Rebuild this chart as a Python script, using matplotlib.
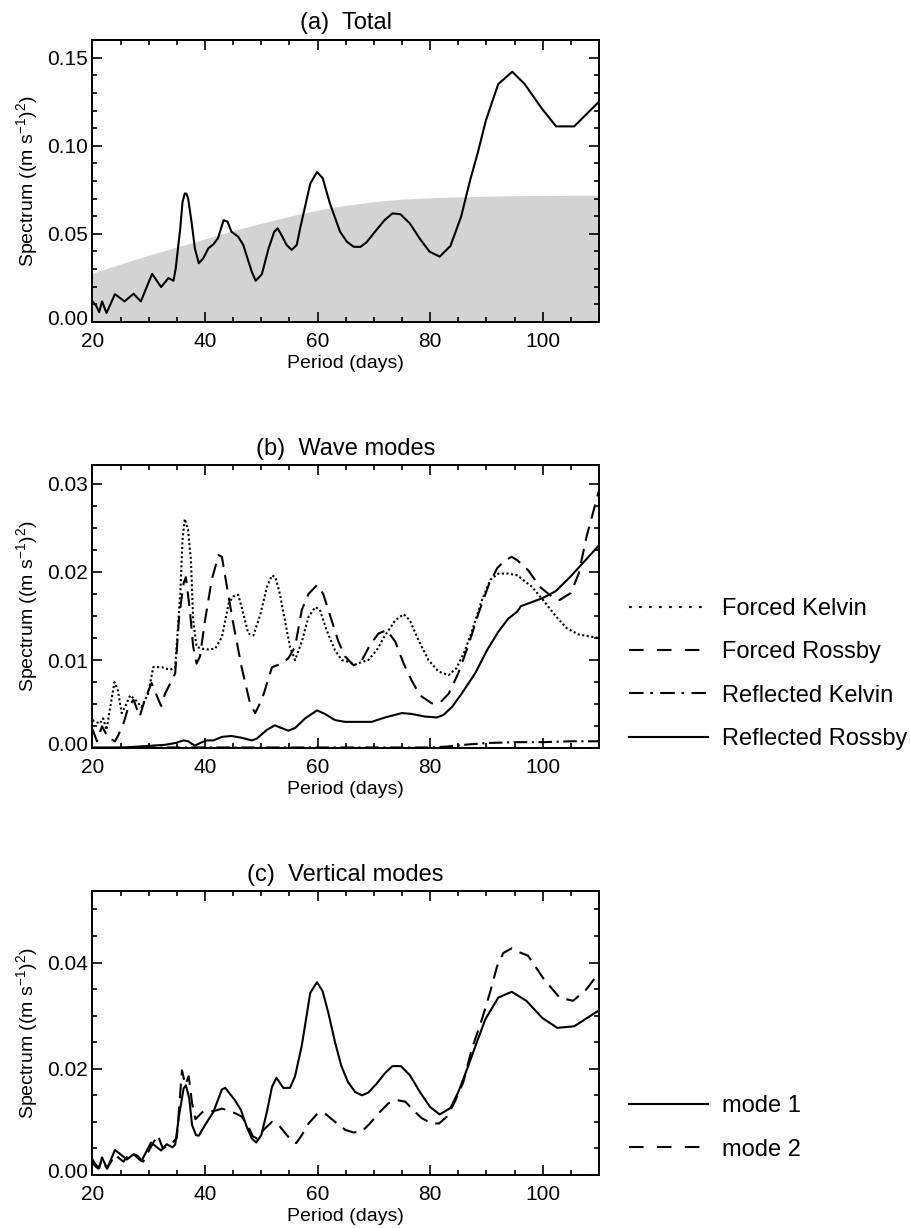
import matplotlib
matplotlib.use("Agg")
import matplotlib.pyplot as plt
import matplotlib.transforms as mtransforms
from matplotlib.lines import Line2D
from matplotlib.ticker import MultipleLocator

plt.rcParams['font.family'] = ['Liberation Sans', 'DejaVu Sans']
plt.rcParams['mathtext.fontset'] = 'custom'
plt.rcParams['mathtext.rm'] = 'Liberation Sans'
plt.rcParams['mathtext.default'] = 'regular'

# (a) total spectrum
total_period = [20.0, 20.7, 21.2, 21.7, 22.5, 24.0, 25.7, 27.3, 28.6, 30.6, 32.2, 33.5, 34.4, 34.8,
                35.6, 36.0, 36.4, 36.7, 37.0, 37.6, 38.2, 38.9, 39.7, 40.6, 41.5, 42.3, 43.3, 44.0,
                44.7, 45.9, 46.8, 48.3, 49.0, 50.1, 51.3, 52.3, 52.9, 53.6, 54.5, 55.4, 56.3, 56.9,
                58.7, 59.9, 60.9, 62.2, 64.0, 65.2, 66.4, 67.6, 68.7, 70.2, 71.9, 73.3, 74.7, 76.4,
                78.2, 79.9, 81.7, 83.6, 85.5, 87.1, 88.5, 89.9, 92.1, 94.6, 96.8, 99.9, 102.4, 105.6,
                110.0]
total_spec = [0.0117, 0.0089, 0.0056, 0.0117, 0.0051, 0.0158, 0.0117, 0.0160, 0.0117, 0.0273, 0.0198,
              0.0249, 0.0234, 0.0305, 0.0531, 0.0680, 0.0729, 0.0728, 0.0701, 0.0569, 0.0418, 0.0333,
              0.0362, 0.0418, 0.0441, 0.0475, 0.0578, 0.0569, 0.0512, 0.0484, 0.0437, 0.0286, 0.0234,
              0.0271, 0.0418, 0.0512, 0.0531, 0.0493, 0.0437, 0.0409, 0.0437, 0.0531, 0.0785, 0.0851,
              0.0817, 0.0672, 0.0512, 0.0456, 0.0427, 0.0426, 0.0452, 0.0512, 0.0578, 0.0616, 0.0612,
              0.0559, 0.0471, 0.0399, 0.0371, 0.0431, 0.0597, 0.0804, 0.0964, 0.1143, 0.1350, 0.1420,
              0.1350, 0.1209, 0.1110, 0.1110, 0.1250]

# significance level (grey shading)
sig_period = [20, 25, 30, 35, 40, 45, 50, 55, 60, 65, 70, 75, 80, 85, 90, 95, 100, 105, 110]
sig_level = [0.0273, 0.0325, 0.0375, 0.0422, 0.0468, 0.0515, 0.0557, 0.0596, 0.0632, 0.0659,
             0.0680, 0.0694, 0.0702, 0.0707, 0.0711, 0.0714, 0.0715, 0.0716, 0.0716]

# (b) wave modes
fk_period = [20.0, 21.3, 21.9, 22.5, 23.9, 24.5, 25.2, 25.8, 26.7, 27.6, 28.7, 29.9, 30.8, 32.3, 33.8,
             34.7, 35.6, 36.0, 36.4, 37.0, 37.5, 37.9, 38.5, 39.4, 40.6, 41.8, 43.0, 44.2, 45.0, 45.9,
             46.5, 47.7, 48.6, 49.8, 51.0, 51.9, 52.5, 53.3, 54.2, 55.1, 56.0, 57.2, 58.4, 59.6, 60.4,
             61.6, 63.1, 64.3, 65.5, 66.7, 67.9, 69.0, 70.5, 72.0, 73.8, 75.3, 76.4, 77.9, 79.7, 81.5,
             83.3, 84.7, 86.2, 87.7, 89.2, 90.7, 92.1, 93.9, 95.5, 98.1, 100.2, 102.3, 104.3, 106.4,
             110.0]
forced_kelvin = [0.0032, 0.0028, 0.0034, 0.0021, 0.0075, 0.0066, 0.0040, 0.0047, 0.0060, 0.0055,
                 0.0047, 0.0062, 0.0092, 0.0092, 0.0089, 0.0092, 0.0175, 0.0236, 0.0260, 0.0247,
                 0.0213, 0.0145, 0.0115, 0.0113, 0.0112, 0.0113, 0.0126, 0.0164, 0.0172, 0.0174,
                 0.0160, 0.0130, 0.0128, 0.0151, 0.0183, 0.0196, 0.0194, 0.0175, 0.0145, 0.0115,
                 0.0100, 0.0121, 0.0149, 0.0160, 0.0157, 0.0134, 0.0111, 0.0100, 0.0098, 0.0095,
                 0.0098, 0.0100, 0.0111, 0.0128, 0.0145, 0.0152, 0.0145, 0.0123, 0.0100, 0.0087,
                 0.0083, 0.0091, 0.0111, 0.0138, 0.0168, 0.0191, 0.0198, 0.0198, 0.0196, 0.0183,
                 0.0167, 0.0150, 0.0136, 0.0129, 0.0125]

fr_period = [20.0, 20.8, 21.7, 22.8, 24.0, 24.6, 25.5, 26.4, 27.3, 28.4, 29.3, 30.5, 31.4, 32.2, 32.9,
             34.1, 34.7, 35.4, 36.2, 36.6, 37.3, 37.9, 38.5, 39.1, 40.0, 41.2, 42.4, 43.0, 43.9, 45.0,
             46.5, 48.0, 48.9, 50.1, 51.9, 53.6, 54.8, 56.0, 57.2, 58.4, 59.9, 61.0, 62.5, 63.7, 64.9,
             66.4, 67.9, 69.3, 70.8, 72.3, 73.8, 75.3, 76.7, 78.2, 80.3, 81.8, 83.3, 85.0, 86.8, 88.6,
             90.4, 91.9, 93.3, 94.5, 95.5, 97.4, 99.5, 101.6, 103.0, 105.0, 106.4, 107.8, 110.0]
forced_rossby = [0.0022, 0.0008, 0.0025, 0.0012, 0.0008, 0.0015, 0.0028, 0.0047, 0.0055, 0.0036,
                 0.0055, 0.0074, 0.0060, 0.0048, 0.0062, 0.0077, 0.0085, 0.0149, 0.0187, 0.0194,
                 0.0157, 0.0115, 0.0096, 0.0104, 0.0145, 0.0191, 0.0219, 0.0217, 0.0183, 0.0142,
                 0.0092, 0.0051, 0.0040, 0.0055, 0.0092, 0.0096, 0.0102, 0.0115, 0.0157, 0.0175,
                 0.0185, 0.0175, 0.0145, 0.0121, 0.0104, 0.0094, 0.0100, 0.0117, 0.0130, 0.0134,
                 0.0121, 0.0096, 0.0077, 0.0060, 0.0051, 0.0052, 0.0062, 0.0085, 0.0117, 0.0153,
                 0.0185, 0.0204, 0.0213, 0.0217, 0.0213, 0.0202, 0.0183, 0.0172, 0.0168, 0.0176,
                 0.0198, 0.0240, 0.0292]

rk_period = [20, 30, 40, 50, 60, 70, 80, 83, 86, 90, 95, 100, 105, 110]
reflected_kelvin = [0.0000, 0.0001, 0.0001, 0.0001, 0.0001, 0.0001, 0.0001, 0.0002, 0.0004, 0.0006,
                    0.0007, 0.0007, 0.0008, 0.0008]

rr_period = [20.0, 25.8, 30.5, 32.9, 34.7, 36.2, 37.0, 38.2, 39.1, 40.3, 41.5, 43.0, 44.7, 46.5, 48.3,
             49.2, 51.0, 52.4, 53.6, 54.8, 56.0, 57.8, 59.9, 61.3, 63.1, 64.9, 67.3, 69.6, 72.0, 75.0,
             76.7, 79.1, 81.2, 82.4, 83.9, 85.6, 88.0, 90.1, 92.1, 93.9, 95.5, 96.1, 99.9, 102.3,
             105.0, 110.0]
reflected_rossby = [0.0001, 0.0001, 0.0003, 0.0004, 0.0006, 0.0009, 0.0008, 0.0003, 0.0006, 0.0009,
                    0.0009, 0.0013, 0.0014, 0.0012, 0.0009, 0.0011, 0.0021, 0.0026, 0.0023, 0.0020,
                    0.0023, 0.0034, 0.0043, 0.0039, 0.0032, 0.0030, 0.0030, 0.0030, 0.0035, 0.0040,
                    0.0039, 0.0036, 0.0035, 0.0038, 0.0047, 0.0062, 0.0085, 0.0111, 0.0132, 0.0147,
                    0.0155, 0.0161, 0.0170, 0.0178, 0.0195, 0.0230]

# (c) vertical modes
m1_period = [20.0, 20.6, 21.2, 21.7, 22.6, 24.0, 25.2, 26.1, 27.3, 28.7, 30.4, 32.2, 33.2, 34.2, 34.7,
             35.4, 36.2, 36.6, 37.2, 37.7, 38.4, 38.9, 40.0, 41.5, 43.0, 43.6, 44.4, 45.3, 46.4, 47.4,
             48.3, 49.1, 50.0, 51.0, 51.9, 52.7, 53.9, 55.1, 56.0, 57.2, 58.7, 59.9, 60.9, 61.9, 63.1,
             64.2, 65.4, 66.7, 67.9, 69.0, 70.5, 72.0, 73.3, 74.8, 76.4, 78.2, 80.0, 81.7, 83.6, 85.0,
             86.8, 88.3, 89.8, 92.1, 94.5, 97.1, 99.9, 102.6, 105.6, 110.0]
mode1 = [0.0029, 0.0019, 0.0013, 0.0033, 0.0012, 0.0047, 0.0037, 0.0029, 0.0039, 0.0026, 0.0061,
         0.0046, 0.0058, 0.0052, 0.0057, 0.0113, 0.0163, 0.0169, 0.0144, 0.0094, 0.0075, 0.0074,
         0.0094, 0.0119, 0.0161, 0.0164, 0.0153, 0.0141, 0.0122, 0.0091, 0.0069, 0.0061, 0.0075,
         0.0119, 0.0166, 0.0183, 0.0164, 0.0164, 0.0186, 0.0244, 0.0343, 0.0363, 0.0346, 0.0306,
         0.0250, 0.0206, 0.0175, 0.0156, 0.0150, 0.0155, 0.0172, 0.0192, 0.0205, 0.0205, 0.0188,
         0.0156, 0.0128, 0.0114, 0.0126, 0.0156, 0.0206, 0.0250, 0.0293, 0.0334, 0.0345, 0.0328,
         0.0296, 0.0277, 0.0280, 0.0310]

m2_period = [20.0, 21.0, 21.7, 22.6, 24.0, 25.5, 26.7, 28.0, 29.0, 30.5, 31.6, 32.5, 34.0, 35.0, 35.9,
             36.5, 37.1, 37.7, 38.3, 39.5, 40.5, 41.5, 43.0, 44.5, 45.6, 46.5, 47.5, 48.5, 49.3, 50.4,
             51.9, 53.0, 54.0, 55.4, 56.2, 57.2, 58.4, 60.1, 61.3, 63.1, 64.9, 66.4, 67.9, 69.3, 71.1,
             72.6, 74.1, 75.6, 77.0, 78.5, 80.3, 81.6, 83.0, 84.4, 85.9, 87.4, 89.2, 90.7, 91.9, 93.0,
             94.5, 95.5, 97.4, 100.2, 103.0, 105.4, 107.8, 110.0]
mode2 = [0.0022, 0.0012, 0.0028, 0.0012, 0.0038, 0.0025, 0.0042, 0.0036, 0.0025, 0.0055, 0.0075,
         0.0050, 0.0058, 0.0070, 0.0197, 0.0170, 0.0186, 0.0135, 0.0105, 0.0118, 0.0122, 0.0120,
         0.0125, 0.0120, 0.0115, 0.0110, 0.0095, 0.0073, 0.0068, 0.0085, 0.0100, 0.0095, 0.0082,
         0.0064, 0.0060, 0.0075, 0.0097, 0.0117, 0.0116, 0.0100, 0.0085, 0.0080, 0.0082, 0.0097,
         0.0119, 0.0135, 0.0141, 0.0138, 0.0122, 0.0107, 0.0097, 0.0097, 0.0110, 0.0138, 0.0175,
         0.0237, 0.0293, 0.0346, 0.0393, 0.0418, 0.0427, 0.0421, 0.0413, 0.0369, 0.0334, 0.0328,
         0.0350, 0.0381]

ylabel = 'Spectrum ((m s$^{-1}$)$^2$)'
LW = 1.5
DOT = (0, (1.0, 1.2))
DASH = (0, (7, 4))
DASHDOT = (0, (6.5, 2.2, 1.0, 2.2))


def style_axis(ax, ymax, ymajor, yminor):
    ax.set_xlim(20, 110)
    ax.set_ylim(0, ymax)
    ax.xaxis.set_major_locator(MultipleLocator(20))
    ax.xaxis.set_minor_locator(MultipleLocator(5))
    ax.yaxis.set_major_locator(MultipleLocator(ymajor))
    ax.yaxis.set_minor_locator(MultipleLocator(yminor))
    ax.yaxis.set_major_formatter(plt.FormatStrFormatter('%.2f'))
    ax.tick_params(which='both', direction='in', top=True, right=True, width=1.2, labelsize=15)
    ax.tick_params(which='major', length=7)
    ax.tick_params(which='minor', length=3.5)
    ax.tick_params(axis='x', pad=7)
    ax.tick_params(axis='y', pad=3)
    for s in ax.spines.values():
        s.set_linewidth(1.4)
    ax.set_xlabel('Period (days)', fontsize=14, labelpad=3)
    ax.set_ylabel(ylabel, fontsize=14, labelpad=5)


fig = plt.figure(figsize=(9.10, 12.28), dpi=100)
L, W = 0.1016, 0.5566
ax1 = fig.add_axes([L, 0.7378, W, 0.2296])
ax2 = fig.add_axes([L, 0.3906, W, 0.2307])
ax3 = fig.add_axes([L, 0.0432, W, 0.2313])

# (a)
ax1.fill_between(sig_period, -1, sig_level, color='#d3d3d3', lw=0)
ax1.plot(total_period, total_spec, color='k', lw=LW)
style_axis(ax1, 0.16, 0.05, 0.01)
ax1.set_title('(a)  Total', fontsize=17, pad=8)

# (b)
ax2.plot(fk_period, forced_kelvin, color='k', lw=LW, linestyle=DOT)
ax2.plot(fr_period, forced_rossby, color='k', lw=LW, linestyle=DASH)
ax2.plot(rk_period, reflected_kelvin, color='k', lw=LW, linestyle=DASHDOT)
ax2.plot(rr_period, reflected_rossby, color='k', lw=LW)
style_axis(ax2, 0.0321, 0.01, 0.0025)
ax2.set_title('(b)  Wave modes', fontsize=17, pad=7)

labels_b = ['Forced Kelvin', 'Forced Rossby', 'Reflected Kelvin', 'Reflected Rossby']
handles_b = [Line2D([], [], color='k', lw=LW, linestyle=(0, (1.3, 3.5))),
             Line2D([], [], color='k', lw=LW, linestyle=(0, (7, 6.4))),
             Line2D([], [], color='k', lw=LW, linestyle=(0, (7, 3.2, 1.3, 3.5))),
             Line2D([], [], color='k', lw=LW)]
ax2.legend(handles_b, labels_b, loc='center left', bbox_to_anchor=(629 / 910, 1 - 674 / 1228),
           bbox_transform=fig.transFigure, frameon=False, fontsize=17, handlelength=3.35,
           handletextpad=0.6, labelspacing=0.9, borderpad=0, borderaxespad=0)

# (c)
ax3.plot(m1_period, mode1, color='k', lw=LW)
ax3.plot(m2_period, mode2, color='k', lw=LW, linestyle=DASH)
style_axis(ax3, 0.0535, 0.02, 0.005)
ax3.set_title('(c)  Vertical modes', fontsize=17, pad=7)

handles_c = [Line2D([], [], color='k', lw=LW),
             Line2D([], [], color='k', lw=LW, linestyle=(0, (7, 6.4)))]
ax3.legend(handles_c, ['mode 1', 'mode 2'], loc='center left',
           bbox_to_anchor=(629 / 910, 1 - 1128 / 1228), bbox_transform=fig.transFigure,
           frameon=False, fontsize=17, handlelength=3.35, handletextpad=0.6, labelspacing=0.9,
           borderpad=0, borderaxespad=0)

# IDL puts the 0.00 label a little above its tick
fig.canvas.draw()
for ax in (ax1, ax2, ax3):
    for t in ax.yaxis.get_major_ticks():
        if t.label1.get_text() == '0.00':
            t.label1.set_transform(t.label1.get_transform() +
                                   mtransforms.ScaledTranslation(0, 3.4 / 72, fig.dpi_scale_trans))

fig.savefig('out.png', dpi=100)
